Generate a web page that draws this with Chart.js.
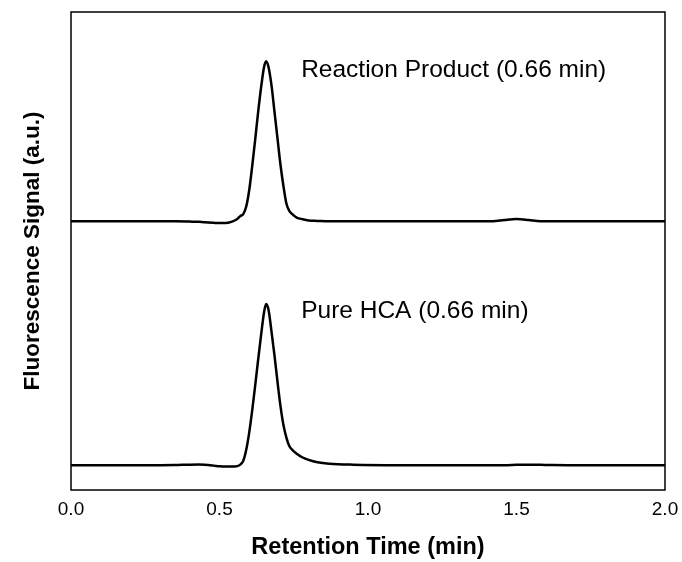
<!DOCTYPE html>
<html>
<head>
<meta charset="utf-8">
<script src="https://cdn.jsdelivr.net/npm/chart.js@4"></script>
<style>
    html, body { margin: 0; padding: 0; background: #fff; }
    #wrap { width: 682px; height: 562px; }
</style>
</head>
<body>
<div id="wrap"><canvas id="chrom"></canvas></div>
<script>
// retention time (min)
const times = [0, 0.1, 0.2, 0.3, 0.35, 0.4, 0.43, 0.45, 0.48, 0.5, 0.52, 0.54, 0.56, 0.57, 0.58, 0.59, 0.6, 0.61, 0.62, 0.63, 0.64, 0.65, 0.657, 0.665, 0.675, 0.685, 0.695, 0.705, 0.715, 0.725, 0.735, 0.745, 0.76, 0.78, 0.8, 0.83, 0.87, 0.95, 1.1, 1.3, 1.42, 1.46, 1.5, 1.54, 1.58, 1.62, 1.7, 1.85, 2.0];

// fluorescence signal (a.u.), traces offset vertically
const reactionProduct = [56.2, 56.2, 56.2, 56.2, 56.2, 56.15, 56.1, 56.0, 55.9, 55.85, 55.85, 56.1, 56.7, 57.3, 57.7, 59.3, 62.7, 67.7, 73.2, 79.0, 84.2, 88.5, 89.7, 88.5, 84.7, 79.2, 73.7, 68.2, 63.7, 60.0, 58.4, 57.7, 57.0, 56.65, 56.4, 56.3, 56.2, 56.2, 56.2, 56.2, 56.2, 56.5, 56.7, 56.5, 56.2, 56.2, 56.2, 56.2, 56.2];
const pureHCA = [5.2, 5.2, 5.2, 5.2, 5.22, 5.3, 5.32, 5.28, 5.1, 4.95, 4.9, 4.9, 5.0, 5.3, 6.1, 8.4, 12.0, 16.6, 21.8, 27.2, 32.4, 37.2, 38.9, 37.7, 33.2, 28.2, 22.8, 17.7, 13.7, 11.0, 9.2, 8.4, 7.6, 6.8, 6.3, 5.8, 5.5, 5.3, 5.2, 5.2, 5.2, 5.2, 5.27, 5.3, 5.27, 5.22, 5.2, 5.2, 5.2];

const xTicks = [0, 0.5, 1.0, 1.5, 2.0];

// label text with anchor in data units
const labels = [
    { text: 'Reaction Product (0.66 min)', x: 0.775, y: 87.9 },
    { text: 'Pure HCA (0.66 min)', x: 0.775, y: 37.4 }
];

const fontFamily = '"Liberation Sans", Arial, sans-serif';

function toPoints(ys) {
    return times.map((t, i) => ({ x: t, y: ys[i] }));
}

const framePlugin = {
    id: 'frame',
    afterDatasetsDraw(chart) {
        const { ctx, chartArea } = chart;
        ctx.save();
        ctx.strokeStyle = '#000';
        ctx.lineWidth = 1.5;
        ctx.strokeRect(chartArea.left, chartArea.top, chartArea.right - chartArea.left, chartArea.bottom - chartArea.top);

        ctx.fillStyle = '#000';
        ctx.font = '24.5px ' + fontFamily;
        ctx.textBaseline = 'middle';
        ctx.textAlign = 'left';
        labels.forEach(l => {
            ctx.fillText(l.text, chart.scales.x.getPixelForValue(l.x), chart.scales.y.getPixelForValue(l.y));
        });
        ctx.restore();
    }
};

new Chart(document.getElementById('chrom').getContext('2d'), {
    type: 'line',
    data: {
        datasets: [
            {
                label: 'Reaction Product',
                data: toPoints(reactionProduct),
                borderColor: '#000',
                borderWidth: 2.5,
                pointRadius: 0,
                cubicInterpolationMode: 'monotone',
                fill: false
            },
            {
                label: 'Pure HCA',
                data: toPoints(pureHCA),
                borderColor: '#000',
                borderWidth: 2.5,
                pointRadius: 0,
                cubicInterpolationMode: 'monotone',
                fill: false
            }
        ]
    },
    options: {
        responsive: true,
        maintainAspectRatio: false,
        animation: false,
        layout: { padding: { left: 0, right: 17, top: 12, bottom: 0 } },
        plugins: {
            legend: { display: false },
            tooltip: { enabled: false }
        },
        scales: {
            x: {
                type: 'linear',
                min: 0,
                max: 2,
                afterBuildTicks: scale => { scale.ticks = xTicks.map(v => ({ value: v })); },
                afterFit: scale => {
                    scale.height = 72;
                    scale.paddingLeft = 0;
                    scale.paddingRight = 0;
                },
                grid: { display: false, drawTicks: false },
                border: { display: false },
                ticks: {
                    padding: 8,
                    color: '#000',
                    font: { family: fontFamily, size: 19 },
                    callback: v => v.toFixed(1)
                },
                title: {
                    display: true,
                    text: 'Retention Time (min)',
                    color: '#000',
                    font: { family: fontFamily, size: 23.5, weight: 'bold' },
                    padding: { top: 0, bottom: 0 }
                }
            },
            y: {
                min: 0,
                max: 100,
                afterFit: scale => { scale.width = 71; },
                grid: { display: false, drawTicks: false },
                border: { display: false },
                ticks: { display: false },
                title: {
                    display: true,
                    text: 'Fluorescence Signal (a.u.)',
                    color: '#000',
                    font: { family: fontFamily, size: 22.5, weight: 'bold' },
                    padding: { top: 19, bottom: 0 }
                }
            }
        }
    },
    plugins: [framePlugin]
});
</script>
</body>
</html>
